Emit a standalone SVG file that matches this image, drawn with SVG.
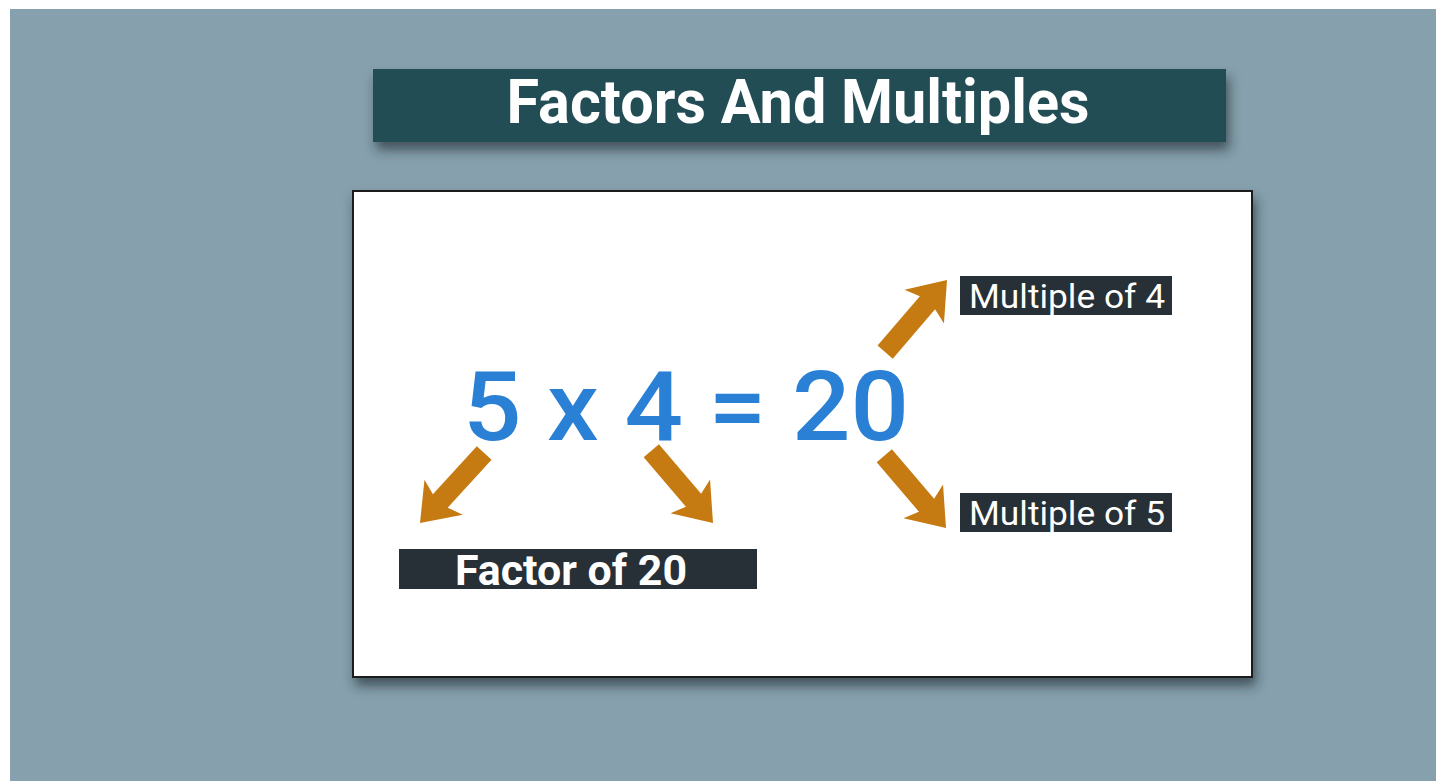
<svg xmlns="http://www.w3.org/2000/svg" width="1436" height="781" viewBox="0 0 1436 781">
<style>
.lbl{fill:#263036}
.wt{fill:#ffffff;font-family:Roboto,"Liberation Sans",sans-serif}
.arrow{fill:#C67A12}
</style>
<defs>
<filter id="sh" x="-10%" y="-20%" width="125%" height="150%">
<feDropShadow dx="3" dy="8" stdDeviation="6" flood-color="#1e2a30" flood-opacity="0.65"/>
</filter>
<path id="arr" d="M -95,-10 L -30,-10 L -35,-26 L 0,0 L -35,26 L -30,10 L -95,10 Z"/>
</defs>
<rect x="0" y="0" width="1436" height="781" fill="#ffffff"/>
<rect x="10" y="9" width="1426" height="772" fill="#86A0AD"/>
<g id="title">
<rect x="373" y="69" width="853" height="73" fill="#244E55" filter="url(#sh)"/>
<text class="wt" x="798" y="123" text-anchor="middle" font-size="62" font-weight="bold" textLength="583" lengthAdjust="spacingAndGlyphs">Factors And Multiples</text>
</g>
<g id="panel">
<rect x="353" y="191" width="899" height="486" fill="#ffffff" stroke="#1a1a1a" stroke-width="2" filter="url(#sh)"/>
</g>
<g id="equation">
<text x="463" y="440" font-family="Roboto,'Liberation Sans',sans-serif" font-size="96" font-weight="500" fill="#2A80D4" textLength="446" lengthAdjust="spacingAndGlyphs">5 x 4 = 20</text>
</g>
<g id="mult4">
<rect class="lbl" x="960" y="276" width="212" height="39"/>
<text class="wt" x="969" y="308" font-size="34" textLength="196" lengthAdjust="spacingAndGlyphs">Multiple of 4</text>
</g>
<g id="mult5">
<rect class="lbl" x="960" y="493" width="212" height="39"/>
<text class="wt" x="969" y="525" font-size="34" textLength="196" lengthAdjust="spacingAndGlyphs">Multiple of 5</text>
</g>
<g id="factor">
<rect class="lbl" x="399" y="549" width="358" height="40"/>
<text class="wt" x="455" y="585" font-size="42" font-weight="bold" textLength="232" lengthAdjust="spacingAndGlyphs">Factor of 20</text>
</g>
<g id="connectors" class="arrow">
<use href="#arr" transform="translate(420,523) rotate(132.5)"/>
<use href="#arr" transform="translate(713,523) rotate(49.5)"/>
<use href="#arr" transform="translate(947,280) rotate(-49.4)"/>
<use href="#arr" transform="translate(946,528) rotate(49.5)"/>
</g>
</svg>
